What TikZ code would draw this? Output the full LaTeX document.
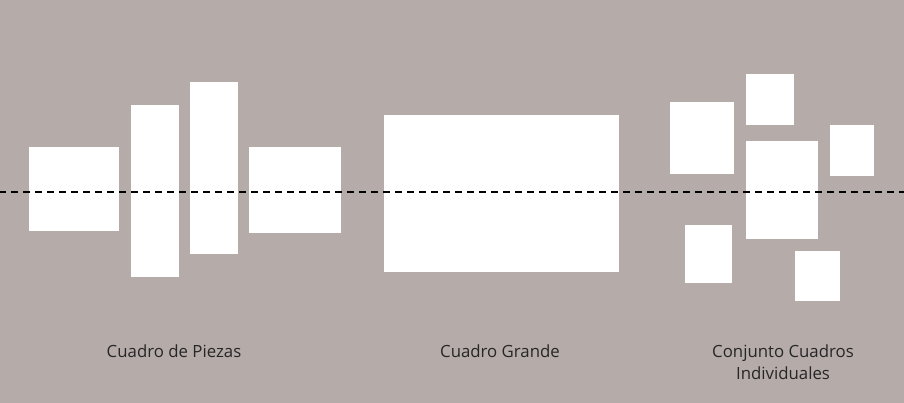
\documentclass[tikz,border=0pt]{standalone}
\usepackage{fontspec}
\setmainfont{Open Sans}
\definecolor{fondo}{RGB}{181,172,170}
\tikzset{pieza/.style={fill=white}, rotulo/.style={font=\fontsize{16.8}{22}\selectfont, text=black!85, align=center}}
\begin{document}
\begin{tikzpicture}[x=1pt,y=-1pt]
 \useasboundingbox (0,0) rectangle (904,402);
 \fill[fondo](-1,-1) rectangle (905,403);
 \fill[pieza](29,147) rectangle (119,231);
 \fill[pieza](131,105) rectangle (179,277);
 \fill[pieza](190,82) rectangle (238,254);
 \fill[pieza](249,147) rectangle (341,233);
 \fill[pieza](384,115) rectangle (619,272);
 \fill[pieza](670,102) rectangle (734,174);
 \fill[pieza](746,74) rectangle (794,125);
 \fill[pieza](746,141) rectangle (818,239);
 \fill[pieza](830,125) rectangle (874,176);
 \fill[pieza](685,225) rectangle (732,283);
 \fill[pieza](795,251) rectangle (840,301);
 \draw[line width=2pt,dash pattern=on 7pt off 5pt](-1,192) -- (905,192);
 \node[rotulo] (piezas) at (174,351) {Cuadro de Piezas};
 \node[rotulo] (grande) at (500,351) {Cuadro Grande};
 \node[rotulo,anchor=north] (conjunto) at (783,341) {Conjunto Cuadros\\ Individuales};
\end{tikzpicture}
\end{document}
